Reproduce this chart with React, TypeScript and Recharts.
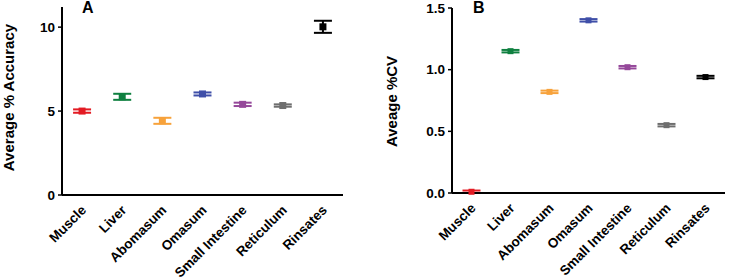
import React from "react";
import { ComposedChart, Line, XAxis, YAxis, ErrorBar } from "recharts";

const categories = ["Muscle", "Liver", "Abomasum", "Omasum", "Small Intestine", "Reticulum", "Rinsates"];
const colors = ["#E31B23", "#0F8040", "#F7A23B", "#3F4FA8", "#95489A", "#6E6E6E", "#000000"];

// panel A: average % accuracy
const accuracyMean = [5.0, 5.85, 4.42, 6.02, 5.4, 5.33, 10.02];
const accuracyErr = [0.1, 0.18, 0.18, 0.09, 0.1, 0.07, 0.36];
const accuracyTicks = [0, 5, 10];

// panel B: average %CV
const cvMean = [0.01, 1.15, 0.82, 1.4, 1.02, 0.55, 0.94];
const cvErr = [0.01, 0.01, 0.01, 0.01, 0.01, 0.01, 0.01];
const cvTicks = [0, 0.5, 1.0, 1.5];

const FONT = "'Liberation Sans', Arial, sans-serif";

const buildRows = (mean: number[], err: number[]) =>
  categories.map((name, i) => {
    const row: any = { name };
    row[`m${i}`] = mean[i];
    row[`e${i}`] = err[i];
    return row;
  });

const CatTick = ({ x, y, payload }: any) => (
  <text
    x={0}
    y={0}
    transform={`translate(${x + 5},${y + 16}) rotate(-45)`}
    textAnchor="end"
    fontSize={13.5}
    fontWeight="bold"
    fontFamily={FONT}
    fill="#000"
  >
    {payload.value}
  </text>
);

const squareDot = (color: string, size: number) => (props: any) => {
  const { cx, cy, key } = props;
  if (cx == null || cy == null) return <g key={key} />;
  return <rect key={key} x={cx - size / 2} y={cy - size / 2} width={size} height={size} fill={color} />;
};

const Panel = ({
  mean,
  err,
  domain,
  ticks,
  width,
  yAxisWidth,
  xAxisHeight,
  margin,
  dotSize,
  tickFormatter,
}: any) => (
  <ComposedChart width={width} height={280} data={buildRows(mean, err)} margin={margin}>
    <XAxis
      dataKey="name"
      scale="band"
      interval={0}
      height={xAxisHeight}
      axisLine={{ stroke: "#000", strokeWidth: 2 }}
      tickLine={false}
      tickSize={0}
      tickMargin={0}
      tick={<CatTick />}
    />
    <YAxis
      type="number"
      domain={domain}
      ticks={ticks}
      width={yAxisWidth}
      axisLine={{ stroke: "#000", strokeWidth: 2 }}
      tickLine={{ stroke: "#000", strokeWidth: 1.5 }}
      tickSize={4}
      tickMargin={3}
      tickFormatter={tickFormatter}
      tick={{ fill: "#000", fontSize: 13.5, fontWeight: "bold", fontFamily: FONT }}
    />
    {categories.map((c, i) => (
      <Line
        key={c}
        dataKey={`m${i}`}
        stroke="none"
        dot={squareDot(colors[i], dotSize)}
        activeDot={false}
        legendType="none"
        isAnimationActive={false}
      >
        <ErrorBar dataKey={`e${i}`} direction="y" width={9} strokeWidth={2} stroke={colors[i]} />
      </Line>
    ))}
  </ComposedChart>
);

export default function App() {
  return (
    <div style={{ position: "absolute", left: 0, top: 0, width: 731, height: 280, background: "#fff" }}>
      <div style={{ position: "absolute", left: 0, top: 0 }}>
        <Panel
          mean={accuracyMean}
          err={accuracyErr}
          domain={[0, 11.2]}
          ticks={accuracyTicks}
          width={350}
          yAxisWidth={62}
          xAxisHeight={85}
          margin={{ top: 7, right: 7, bottom: 0, left: 0 }}
          dotSize={7}
          tickFormatter={(v: number) => String(v)}
        />
      </div>
      <div style={{ position: "absolute", left: 370, top: 0 }}>
        <Panel
          mean={cvMean}
          err={cvErr}
          domain={[0, 1.5]}
          ticks={cvTicks}
          width={361}
          yAxisWidth={82}
          xAxisHeight={87}
          margin={{ top: 8, right: 6, bottom: 0, left: 0 }}
          dotSize={6}
          tickFormatter={(v: number) => v.toFixed(1)}
        />
      </div>
      <svg
        width={731}
        height={280}
        style={{ position: "absolute", left: 0, top: 0, pointerEvents: "none" }}
        fontFamily={FONT}
        fontWeight="bold"
        fill="#000"
      >
        <text x={82} y={13} fontSize={16}>A</text>
        <text x={473} y={13} fontSize={16}>B</text>
        <text transform="translate(14,97.5) rotate(-90)" textAnchor="middle" fontSize={15}>
          Average % Accuracy
        </text>
        <text transform="translate(397,101.5) rotate(-90)" textAnchor="middle" fontSize={15}>
          Aveage %CV
        </text>
      </svg>
    </div>
  );
}
